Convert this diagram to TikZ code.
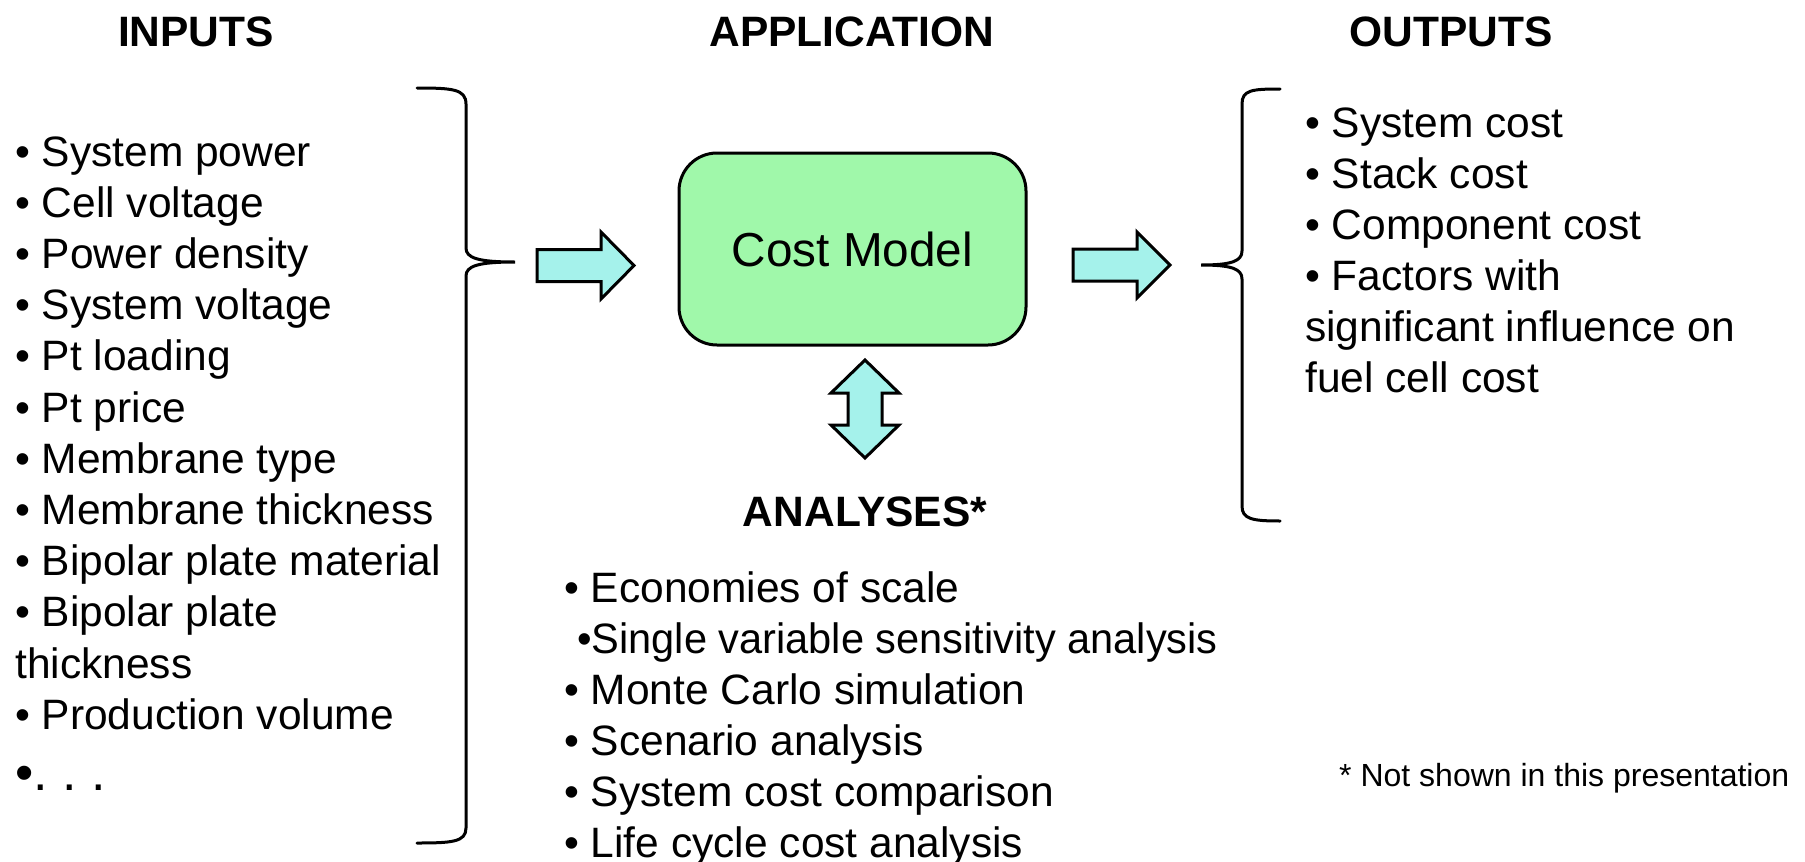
\documentclass[tikz,border=0pt]{standalone}
\usepackage{fontspec}
\setmainfont{Liberation Sans}
\definecolor{arrowc}{RGB}{165,242,235}
\definecolor{boxc}{RGB}{160,248,170}
\tikzset{
  txt/.style={font=\fontsize{42.5}{51.2}\selectfont, inner sep=0pt, anchor=base west},
  ttl/.style={font=\bfseries\fontsize{42.5}{51.2}\selectfont, inner sep=0pt, anchor=base},
  blk/.style={draw=black, line width=3pt, fill=arrowc, line join=miter},
  bracepath/.style={draw=black, line width=3pt, line cap=round},
  modelbox/.style={draw=black, line width=3pt, fill=boxc, rounded corners=38pt,
    minimum width=347pt, minimum height=192pt, inner sep=0pt,
    font=\fontsize{47.7}{57}\selectfont}
}
\begin{document}
\begin{tikzpicture}[x=1pt,y=-1pt]
\useasboundingbox (0,0) rectangle (1805,862);

% titles
\node[ttl] (tin) at (196,46) {INPUTS};
\node[ttl] (tapp) at (852,46) {APPLICATION};
\node[ttl] (tout) at (1451,46) {OUTPUTS};
\node[ttl] (tana) at (865,526) {ANALYSES*};

% inputs list
\foreach \t [count=\i from 0] in {{• System power},{• Cell voltage},{• Power density},{• System voltage},{• Pt loading},{• Pt price},{• Membrane type},{• Membrane thickness},{• Bipolar plate material},{• Bipolar plate},{thickness},{• Production volume}}
  \node[txt] (in\i) at (15,{166+51.2*\i}) {\t};
\node[txt, font=\fontsize{52}{62}\selectfont] (inmore) at (15,790) {\frenchspacing •. . .};

% outputs list
\foreach \t [count=\i from 0] in {{• System cost},{• Stack cost},{• Component cost},{• Factors with},{significant influence on},{fuel cell cost}}
  \node[txt] (out\i) at (1305,{137+51*\i}) {\t};

% analyses list
\node[txt] (an0) at (564,602) {• Economies of scale};
\node[txt] (an1) at (577,653) {\scalebox{0.978}[1]{•Single variable sensitivity analysis}};
\node[txt] (an2) at (564,704) {• Monte Carlo simulation};
\node[txt] (an3) at (564,755) {• Scenario analysis};
\node[txt] (an4) at (564,806) {• System cost comparison};
\node[txt] (an5) at (564,857) {• Life cycle cost analysis};

% footnote
\node[txt, font=\fontsize{32}{38}\selectfont] (foot) at (1339,786) {* Not shown in this presentation};

% cost model box
\node[modelbox] (cm) at (852.5,249) {Cost Model};

% left brace
\draw[bracepath] (417,88) .. controls (452,88) and (466,89) .. (466,104)
  -- (466,248) .. controls (466,258) and (478,262) .. (515,262)
  .. controls (478,262) and (466,266) .. (466,276)
  -- (466,828) .. controls (466,842) and (452,843) .. (417,843);

% right brace
\draw[bracepath] (1280,89) .. controls (1252,89) and (1242,90) .. (1242,104)
  -- (1242,251) .. controls (1242,261) and (1232,265) .. (1201,265)
  .. controls (1232,265) and (1242,269) .. (1242,279)
  -- (1242,506) .. controls (1242,519) and (1252,521) .. (1280,521);

% block arrows
\draw[blk] (537,249.5) -- (601,249.5) -- (601,232) -- (634,265.5) -- (601,299)
  -- (601,281.5) -- (537,281.5) -- cycle;
\draw[blk] (1073,249) -- (1137,249) -- (1137,232) -- (1170,265) -- (1137,298)
  -- (1137,281) -- (1073,281) -- cycle;
\draw[blk] (865,360) -- (899,393) -- (882,393) -- (882,425) -- (899,425)
  -- (865,458) -- (831,425) -- (848,425) -- (848,393) -- (831,393) -- cycle;
\end{tikzpicture}
\end{document}
